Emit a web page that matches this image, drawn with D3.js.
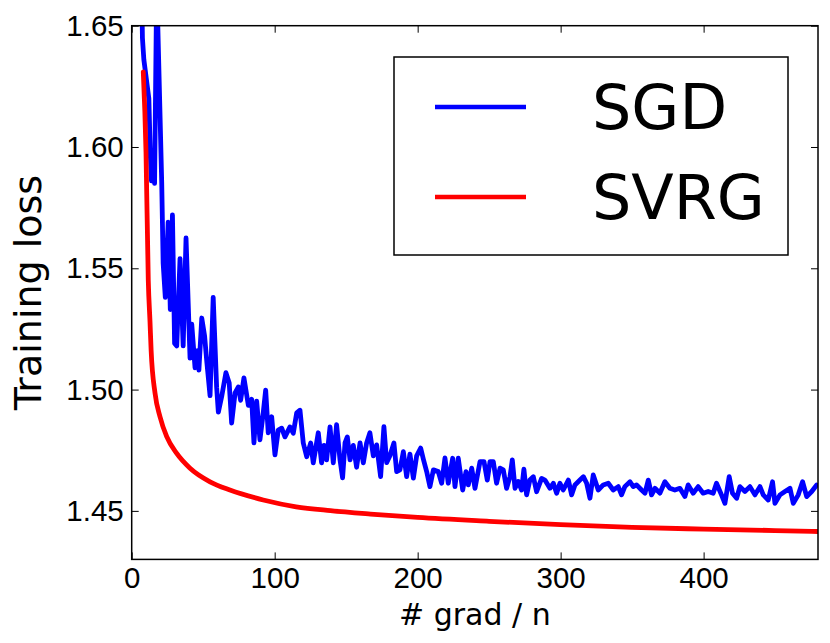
<!DOCTYPE html>
<html>
<head>
<meta charset="utf-8">
<script src="https://cdn.jsdelivr.net/npm/d3@7"></script>
<style>
  body { margin: 0; background: #fff; }
  svg { font-family: "DejaVu Sans", sans-serif; }
</style>
</head>
<body>
<div id="viz"></div>
<script>
// data
const xTicks = [0, 100, 200, 300, 400];
const yTicks = [1.45, 1.50, 1.55, 1.60, 1.65];

const sgdX = [7, 7.5, 8.5, 12, 13, 13.8, 15, 16, 17.5, 21, 22, 23.5, 25.5, 27, 28.5, 30, 31.5, 33.8, 36, 38,
  40.8, 42, 44.3, 46, 47, 49, 51, 52.6, 54.8, 57, 59.4, 60.6, 62.9, 65.9, 68.2, 69.9, 72.3, 74.6, 76.2, 78.5,
  81.6, 83.9, 85.5, 87.4, 89.7, 92.0, 93.7, 95.5, 97.9, 100.2, 102.5, 104.9, 107.2, 110.7, 113.0, 115.4, 117.7, 120.0, 122.4, 125.2,
  127.0, 130.5, 132.8, 134.5, 136.3, 138.7, 141.0, 143.3, 145.7, 147.5, 149.2, 150.8, 152.7, 155.0, 157.3, 159.7, 162.0, 164.3, 166.6, 169.0,
  171.3, 174.1, 176.4, 178.3, 180.6, 183.4, 185.3, 187.6, 190.0, 192.3, 194.6, 197.0, 199.3, 202.1, 204.0, 206.3, 208.6, 211.0, 214.4, 216.8,
  219.1, 221.4, 224.5, 226.1, 228.4, 231.5, 233.8, 235.4, 237.8, 240.1, 243.6, 246.4, 248.7, 250.6, 252.9, 255.2, 257.6, 259.9, 262.2, 264.6,
  266.2, 268.1, 270.4, 272.7, 274.3, 276.2, 278.5, 280.9, 283.2, 286.7, 289.0, 292.5, 294.9, 297.2, 299.5, 301.8, 305.4, 307.7, 310.0, 313.5,
  315.9, 318.2, 320.5, 322.8, 326.3, 329.8, 333.3, 336.8, 340.3, 342.6, 344.9, 348.5, 350.8, 353.1, 356.6, 359.0, 361.3, 363.6, 366.0, 369.4,
  372.9, 376.4, 379.9, 383.4, 386.9, 389.2, 392.7, 396.2, 399.7, 403.2, 406.7, 409.0, 412.5, 414.9, 417.9, 420.2, 423.1, 425.4, 428.9, 432.4,
  435.9, 439.4, 441.7, 445.2, 448.2, 449.9, 453.4, 456.9, 460.4, 462.7, 466.2, 469.2, 472.1, 475.6, 479.1];
const sgdLoss = [1.665, 1.645, 1.636, 1.620, 1.597, 1.586, 1.598, 1.585, 1.668, 1.585, 1.552, 1.538, 1.569, 1.533, 1.572, 1.519, 1.518, 1.554, 1.518, 1.5625,
  1.513, 1.527, 1.509, 1.516, 1.508, 1.5295, 1.522, 1.511, 1.4975, 1.538, 1.501, 1.4907, 1.497, 1.507, 1.5027, 1.4862, 1.4986, 1.5011, 1.4956, 1.5048,
  1.4935, 1.496, 1.478, 1.4952, 1.4793, 1.4904, 1.4998, 1.4822, 1.4888, 1.4731, 1.4833, 1.4841, 1.4805, 1.4846, 1.482, 1.4904, 1.4915, 1.478, 1.4723, 1.478,
  1.4698, 1.4822, 1.4698, 1.477, 1.471, 1.4846, 1.4698, 1.4855, 1.471, 1.4636, 1.478, 1.4805, 1.471, 1.477, 1.468, 1.478, 1.4698, 1.478, 1.4822, 1.4727,
  1.4772, 1.4641, 1.4847, 1.4699, 1.4727, 1.478, 1.4662, 1.4669, 1.4744, 1.4641, 1.4734, 1.4635, 1.4727, 1.4759, 1.4713, 1.4662, 1.46, 1.4669, 1.4662, 1.4614,
  1.4718, 1.4614, 1.4717, 1.46, 1.4717, 1.4586, 1.4662, 1.4607, 1.4676, 1.4593, 1.4703, 1.4703, 1.4627, 1.4703, 1.4703, 1.4614, 1.4676, 1.4669, 1.4593, 1.4641,
  1.471, 1.4593, 1.4621, 1.4586, 1.4672, 1.4566, 1.4627, 1.4641, 1.4579, 1.4634, 1.4627, 1.4593, 1.4614, 1.4573, 1.4614, 1.4586, 1.4627, 1.4566, 1.4607, 1.4627,
  1.4641, 1.4614, 1.4552, 1.4648, 1.4586, 1.4607, 1.4614, 1.4586, 1.46, 1.4566, 1.46, 1.462, 1.46, 1.4607, 1.4586, 1.4573, 1.4627, 1.4566, 1.4593, 1.4573,
  1.462, 1.4593, 1.4586, 1.4593, 1.4559, 1.4607, 1.4573, 1.46, 1.4573, 1.458, 1.4573, 1.4614, 1.4566, 1.4531, 1.4641, 1.4573, 1.4552, 1.46, 1.458, 1.46,
  1.4566, 1.46, 1.4566, 1.4545, 1.462, 1.4531, 1.4566, 1.458, 1.4593, 1.4531, 1.4566, 1.462, 1.4559, 1.458, 1.4607];

const svrgX = [8.1, 10, 11.6, 12.8, 13.6, 16.3, 19.8, 24.5, 31.5, 40.8, 54.8, 68.7, 92, 115, 139, 167, 200, 250, 300, 350, 400, 450, 480];
const svrgLoss = [1.631, 1.598, 1.545, 1.528, 1.516, 1.4986, 1.4888, 1.4806, 1.4737, 1.4676, 1.462, 1.4586, 1.4545, 1.4517, 1.4501, 1.4487, 1.4473, 1.4457, 1.4443, 1.4432, 1.4425, 1.4419, 1.4415];

const series = [
  { name: "SGD", color: "#0000ff", xs: sgdX, ys: sgdLoss, curve: d3.curveLinear },
  { name: "SVRG", color: "#ff0000", xs: svrgX, ys: svrgLoss, curve: d3.curveMonotoneX }
];

const width = 830, height = 643;
const margin = { top: 25.7, right: 12, bottom: 83.6, left: 131.7 };
const w = width - margin.left - margin.right;
const h = height - margin.top - margin.bottom;

const svg = d3.select("#viz").append("svg")
    .attr("width", width)
    .attr("height", height);

const g = svg.append("g")
    .attr("transform", `translate(${margin.left},${margin.top})`);

const x = d3.scaleLinear().domain([0, 480]).range([0, w]);
const y = d3.scaleLinear().domain([1.43, 1.65]).range([h, 0]);

g.append("clipPath").attr("id", "clip")
  .append("rect").attr("width", w).attr("height", h);

// lines
const plot = g.append("g").attr("clip-path", "url(#clip)");
series.forEach(s => {
  const line = d3.line()
      .x(i => x(s.xs[i]))
      .y(i => y(s.ys[i]))
      .curve(s.curve);
  plot.append("path")
      .attr("d", line(d3.range(s.xs.length)))
      .attr("fill", "none")
      .attr("stroke", s.color)
      .attr("stroke-width", 4.8)
      .attr("stroke-linejoin", "round")
      .attr("stroke-linecap", "round");
});

// axes, ticks pointing inward
const tickLen = 7;
function styleAxis(sel) {
  sel.select(".domain").remove();
  sel.selectAll(".tick line").attr("stroke", "#000").attr("stroke-width", 1);
  sel.selectAll("text").attr("font-size", 29.5).attr("fill", "#000");
}

g.append("g")
    .attr("transform", `translate(0,${h})`)
    .call(d3.axisBottom(x).tickValues(xTicks).tickSize(-tickLen).tickPadding(8).tickFormat(d3.format("d")))
    .call(styleAxis);

g.append("g")
    .call(d3.axisTop(x).tickValues(xTicks).tickSize(-tickLen).tickFormat(""))
    .call(styleAxis);

g.append("g")
    .call(d3.axisLeft(y).tickValues(yTicks).tickSize(-tickLen).tickPadding(8).tickFormat(d3.format(".2f")))
    .call(styleAxis);

g.append("g")
    .attr("transform", `translate(${w},0)`)
    .call(d3.axisRight(y).tickValues(yTicks).tickSize(-tickLen).tickFormat(""))
    .call(styleAxis);

// frame
g.append("rect")
    .attr("width", w)
    .attr("height", h)
    .attr("fill", "none")
    .attr("stroke", "#000")
    .attr("stroke-width", 1.5);

// axis labels
svg.append("text")
    .attr("x", margin.left + w / 2)
    .attr("y", 625)
    .attr("text-anchor", "middle")
    .attr("font-size", 30)
    .text("# grad / n");

svg.append("text")
    .attr("transform", `translate(41,${margin.top + h / 2}) rotate(-90)`)
    .attr("text-anchor", "middle")
    .attr("font-size", 38)
    .text("Training loss");

// legend
const legend = svg.append("g");
legend.append("rect")
    .attr("x", 394).attr("y", 57)
    .attr("width", 394).attr("height", 198)
    .attr("fill", "#fff")
    .attr("stroke", "#000")
    .attr("stroke-width", 1.5);

series.forEach((s, i) => {
  const ly = 107 + i * 90;
  legend.append("line")
      .attr("x1", 435).attr("x2", 526)
      .attr("y1", ly).attr("y2", ly)
      .attr("stroke", s.color)
      .attr("stroke-width", 4.5);
  legend.append("text")
      .attr("x", 592)
      .attr("y", ly + 22)
      .attr("font-size", 62)
      .text(s.name);
});
</script>
</body>
</html>
